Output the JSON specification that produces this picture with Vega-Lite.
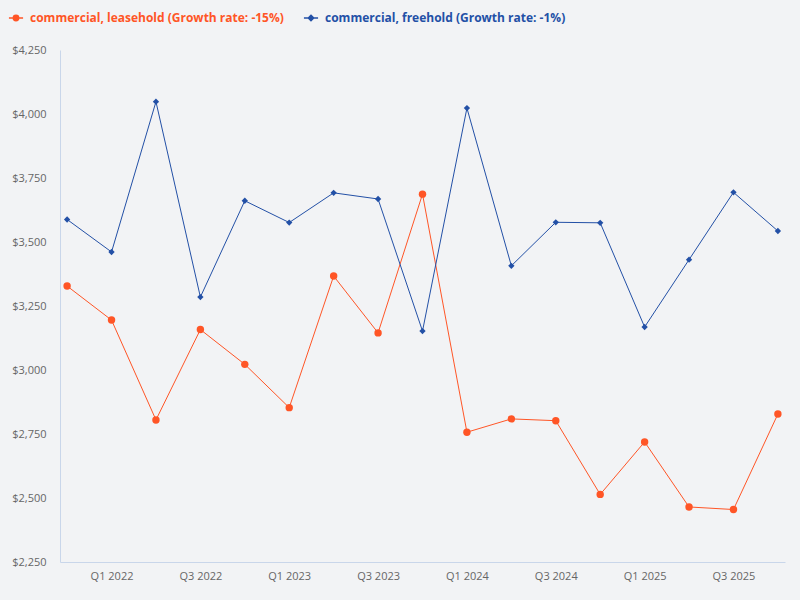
{
  "$schema": "https://vega.github.io/schema/vega-lite/v6.json",
  "width": 725,
  "height": 512,
  "autosize": {"type": "none"},
  "padding": {"left": 60, "top": 50, "right": 15, "bottom": 38},
  "background": "#f2f3f5",
  "config": {
    "font": "Open Sans",
    "view": {"stroke": null},
    "axis": {"labelFont": "Open Sans", "labelColor": "#666666", "labelFontSize": 11, "domainColor": "#c9d6ea", "ticks": false, "grid": false, "title": null}
  },
  "data": {
    "values": [
      {"q": "Q4 2021", "series": "commercial, leasehold (Growth rate: -15%)", "v": 3328},
      {"q": "Q1 2022", "series": "commercial, leasehold (Growth rate: -15%)", "v": 3195},
      {"q": "Q2 2022", "series": "commercial, leasehold (Growth rate: -15%)", "v": 2805},
      {"q": "Q3 2022", "series": "commercial, leasehold (Growth rate: -15%)", "v": 3158},
      {"q": "Q4 2022", "series": "commercial, leasehold (Growth rate: -15%)", "v": 3022},
      {"q": "Q1 2023", "series": "commercial, leasehold (Growth rate: -15%)", "v": 2853},
      {"q": "Q2 2023", "series": "commercial, leasehold (Growth rate: -15%)", "v": 3367},
      {"q": "Q3 2023", "series": "commercial, leasehold (Growth rate: -15%)", "v": 3145},
      {"q": "Q4 2023", "series": "commercial, leasehold (Growth rate: -15%)", "v": 3687},
      {"q": "Q1 2024", "series": "commercial, leasehold (Growth rate: -15%)", "v": 2757},
      {"q": "Q2 2024", "series": "commercial, leasehold (Growth rate: -15%)", "v": 2809},
      {"q": "Q3 2024", "series": "commercial, leasehold (Growth rate: -15%)", "v": 2802},
      {"q": "Q4 2024", "series": "commercial, leasehold (Growth rate: -15%)", "v": 2514},
      {"q": "Q1 2025", "series": "commercial, leasehold (Growth rate: -15%)", "v": 2719},
      {"q": "Q2 2025", "series": "commercial, leasehold (Growth rate: -15%)", "v": 2465},
      {"q": "Q3 2025", "series": "commercial, leasehold (Growth rate: -15%)", "v": 2455},
      {"q": "Q4 2025", "series": "commercial, leasehold (Growth rate: -15%)", "v": 2828},
      {"q": "Q4 2021", "series": "commercial, freehold (Growth rate: -1%)", "v": 3588},
      {"q": "Q1 2022", "series": "commercial, freehold (Growth rate: -1%)", "v": 3461},
      {"q": "Q2 2022", "series": "commercial, freehold (Growth rate: -1%)", "v": 4048},
      {"q": "Q3 2022", "series": "commercial, freehold (Growth rate: -1%)", "v": 3285},
      {"q": "Q4 2022", "series": "commercial, freehold (Growth rate: -1%)", "v": 3661},
      {"q": "Q1 2023", "series": "commercial, freehold (Growth rate: -1%)", "v": 3576},
      {"q": "Q2 2023", "series": "commercial, freehold (Growth rate: -1%)", "v": 3692},
      {"q": "Q3 2023", "series": "commercial, freehold (Growth rate: -1%)", "v": 3668},
      {"q": "Q4 2023", "series": "commercial, freehold (Growth rate: -1%)", "v": 3152},
      {"q": "Q1 2024", "series": "commercial, freehold (Growth rate: -1%)", "v": 4023},
      {"q": "Q2 2024", "series": "commercial, freehold (Growth rate: -1%)", "v": 3407},
      {"q": "Q3 2024", "series": "commercial, freehold (Growth rate: -1%)", "v": 3577},
      {"q": "Q4 2024", "series": "commercial, freehold (Growth rate: -1%)", "v": 3575},
      {"q": "Q1 2025", "series": "commercial, freehold (Growth rate: -1%)", "v": 3168},
      {"q": "Q2 2025", "series": "commercial, freehold (Growth rate: -1%)", "v": 3431},
      {"q": "Q3 2025", "series": "commercial, freehold (Growth rate: -1%)", "v": 3694},
      {"q": "Q4 2025", "series": "commercial, freehold (Growth rate: -1%)", "v": 3543}
    ]
  },
  "encoding": {
    "x": {
      "field": "q", "type": "ordinal", "sort": null,
      "scale": {"type": "point", "padding": 0.16},
      "axis": {"labelAngle": 0, "labelPadding": 8, "values": ["Q1 2022", "Q3 2022", "Q1 2023", "Q3 2023", "Q1 2024", "Q3 2024", "Q1 2025", "Q3 2025"]}
    },
    "y": {
      "field": "v", "type": "quantitative",
      "scale": {"domain": [2250, 4250], "nice": false, "zero": false},
      "axis": {"values": [2250, 2500, 2750, 3000, 3250, 3500, 3750, 4000, 4250], "format": "$,d", "labelPadding": 14}
    },
    "color": {
      "field": "series", "type": "nominal",
      "sort": ["commercial, leasehold (Growth rate: -15%)", "commercial, freehold (Growth rate: -1%)"],
      "scale": {"domain": ["commercial, leasehold (Growth rate: -15%)", "commercial, freehold (Growth rate: -1%)"], "range": ["#ff5526", "#2350a6"]}
    }
  },
  "layer": [
    {
      "mark": {"type": "line", "strokeWidth": 1},
      "encoding": {
        "color": {
          "field": "series", "type": "nominal",
          "sort": ["commercial, leasehold (Growth rate: -15%)", "commercial, freehold (Growth rate: -1%)"],
          "legend": {
            "title": null, "orient": "none", "direction": "horizontal", "legendX": -52, "legendY": -40,
            "labelFontSize": 12, "labelFontWeight": "bold", "labelFont": "Open Sans", "labelLimit": 0,
            "symbolSize": 200, "columnPadding": 16, "labelOffset": 6,
            "encode": {
              "labels": {"update": {"fill": {"signal": "scale('color', datum.value)"}}},
              "symbols": {"update": {
                "shape": {"signal": "indexof(datum.value, 'leasehold') >= 0 ? 'M-1,0H1M-0.38,0A0.38,0.38 0 1,0 0.38,0A0.38,0.38 0 1,0 -0.38,0Z' : 'M-1,0H1M0,-0.38L0.38,0L0,0.38L-0.38,0Z'"},
                "fill": {"signal": "scale('color', datum.value)"},
                "stroke": {"signal": "scale('color', datum.value)"},
                "strokeWidth": {"value": 1.5},
                "opacity": {"value": 1}
              }}
            }
          }
        }
      }
    },
    {
      "transform": [{"filter": "indexof(datum.series, 'leasehold') >= 0"}],
      "mark": {"type": "point", "filled": true, "opacity": 1, "shape": "circle", "size": 55}
    },
    {
      "transform": [{"filter": "indexof(datum.series, 'freehold') >= 0"}],
      "mark": {"type": "point", "filled": true, "opacity": 1, "shape": "diamond", "size": 40}
    }
  ]
}
